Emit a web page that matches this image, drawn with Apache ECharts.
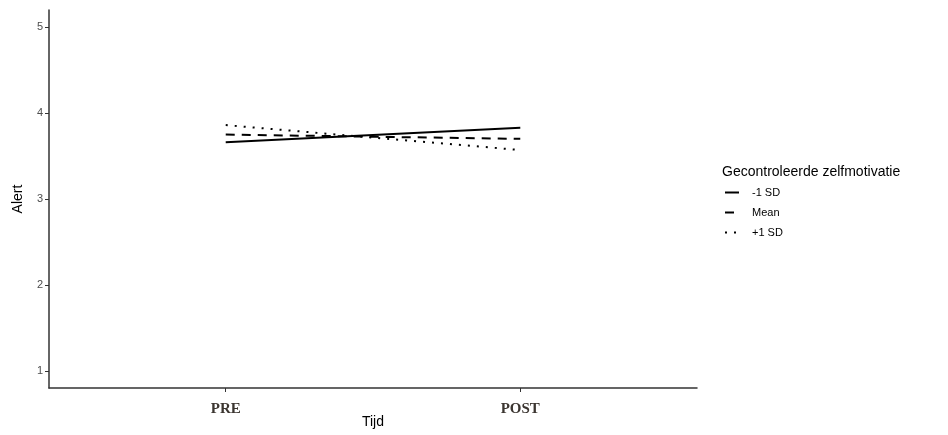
<!DOCTYPE html>
<html>
<head>
<meta charset="utf-8">
<script src="https://cdn.jsdelivr.net/npm/echarts@6/dist/echarts.min.js"></script>
<style>
  html, body { margin: 0; padding: 0; background: #fff; }
  #main { width: 948px; height: 435px; }
</style>
</head>
<body>
<div id="main"></div>
<script>
// data
const categories = ['PRE', 'POST'];
const minusSD = [3.66, 3.83];
const meanVals = [3.75, 3.70];
const plusSD = [3.86, 3.57];
const yTicks = [1, 2, 3, 4, 5];

const chart = echarts.init(document.getElementById('main'));

// x positions 1, 2 like a ggplot discrete axis
const toPoints = (vals) => vals.map((v, i) => [i + 1, v]);
const xPos = categories.map((c, i) => i + 1);

const mkSeries = (name, vals, type, width) => ({
  name: name,
  type: 'line',
  data: toPoints(vals),
  symbol: 'none',
  lineStyle: { color: '#000', width: width, type: type },
  itemStyle: { color: '#000' },
  emphasis: { disabled: true },
  silent: true
});

chart.setOption({
  animation: false,
  grid: { left: 49, right: 251, top: 10, bottom: 47, containLabel: false, outerBoundsMode: 'none' },
  legend: {
    orient: 'vertical',
    left: 719,
    top: 182,
    itemWidth: 14,
    itemHeight: 12,
    itemGap: 9,
    data: ['-1 SD', 'Mean', '+1 SD'],
    itemStyle: { opacity: 0 },
    textStyle: { fontFamily: 'Liberation Sans', fontSize: 11, color: '#000', padding: [0, 0, 0, 8] },
    selectedMode: false
  },
  graphic: [{
    type: 'text',
    left: 722,
    top: 165,
    style: { text: 'Gecontroleerde zelfmotivatie', font: '14px "Liberation Sans"', fill: '#000' }
  }],
  xAxis: {
    type: 'value',
    min: 0.4,
    max: 2.6,
    splitLine: { show: false },
    axisLine: { lineStyle: { color: '#333', width: 1.5 } },
    axisTick: { show: true, length: 4, customValues: xPos, lineStyle: { color: '#333' } },
    axisLabel: {
      customValues: xPos,
      margin: 14,
      formatter: (v) => categories[Math.round(v) - 1] || '',
      fontFamily: 'Liberation Serif', fontWeight: 'bold', fontSize: 15, color: '#3b3530'
    },
    name: 'Tijd',
    nameLocation: 'middle',
    nameGap: 27,
    nameMoveOverlap: false,
    nameTextStyle: { fontFamily: 'Liberation Sans', fontSize: 14, color: '#000' }
  },
  yAxis: {
    type: 'value',
    min: 0.8,
    max: 5.2,
    splitLine: { show: false },
    axisLine: { show: true, lineStyle: { color: '#333', width: 1.5 } },
    axisTick: { show: true, length: 4, customValues: yTicks, lineStyle: { color: '#333' } },
    axisLabel: {
      customValues: yTicks,
      margin: 6,
      fontFamily: 'Liberation Sans', fontSize: 11, color: '#4d4d4d'
    },
    name: 'Alert',
    nameLocation: 'middle',
    nameGap: 24,
    nameMoveOverlap: false,
    nameRotate: 90,
    nameTextStyle: { fontFamily: 'Liberation Sans', fontSize: 14, color: '#000' }
  },
  series: [
    mkSeries('-1 SD', minusSD, 'solid', 2),
    mkSeries('Mean', meanVals, [9, 7], 2),
    mkSeries('+1 SD', plusSD, [2, 7], 2)
  ]
});
</script>
</body>
</html>
